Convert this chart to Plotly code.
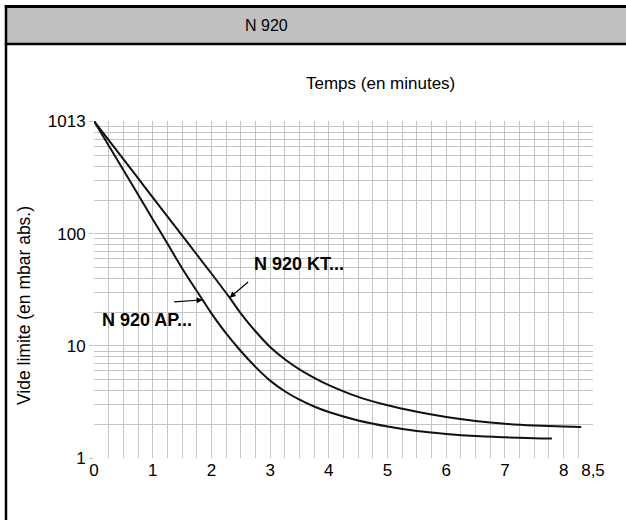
import numpy as np
import plotly.graph_objects as go

# ---- data ----
ap_time = [0, 0.25, 0.5, 0.75, 1.0, 1.25, 1.5, 1.85, 2.0, 2.25, 2.5, 2.75, 3.0, 3.25, 3.5, 3.75, 4.0, 4.5, 5.0, 5.5, 6.0, 6.5, 7.0, 7.5, 7.8]
ap_vacuum = [1013, 612, 370, 224, 135, 81.7, 49.3, 25.7, 19.5, 12.9, 9.0, 6.5, 4.9, 3.94, 3.31, 2.88, 2.57, 2.16, 1.91, 1.74, 1.64, 1.57, 1.53, 1.5, 1.49]
kt_time = [0, 0.25, 0.5, 0.75, 1.0, 1.25, 1.5, 1.75, 2.0, 2.31, 2.5, 2.75, 3.0, 3.25, 3.5, 3.75, 4.0, 4.5, 5.0, 5.5, 6.0, 6.5, 7.0, 7.5, 8.0, 8.3]
kt_vacuum = [1013, 684, 462, 313, 211, 143, 96.6, 65.3, 44.2, 26.9, 19.5, 13.5, 9.77, 7.59, 6.17, 5.19, 4.47, 3.51, 2.95, 2.58, 2.32, 2.14, 2.02, 1.95, 1.91, 1.89]

x_tick_vals = [0, 1, 2, 3, 4, 5, 6, 7, 8, 8.5]
x_tick_text = ["0", "1", "2", "3", "4", "5", "6", "7", "8", "8,5"]
y_tick_vals = [1, 10, 100, 1013]
y_tick_text = ["1", "10", "100", "1013"]
y_minor_vals = [m * d for d in (1, 10, 100) for m in range(2, 10)] + [1000]

title_text = "N 920"
x_title = "Temps (en minutes)"
y_title = "Vide limite (en mbar abs.)"
kt_label = "N 920 KT..."
ap_label = "N 920 AP..."
kt_arrow_idx = 9   # point on KT curve the arrow points to
ap_arrow_idx = 7   # point on AP curve the arrow points to

# ---- layout geometry ----
W, H = 626, 520
L, R, T, B = 94, 33, 121, 62
pw, ph = W - L - R, H - T - B

def pxx(px):
    return (px - L) / pw

def pxy(py):
    return (H - B - py) / ph

FONT = "Liberation Sans, Arial, sans-serif"
GRID = "#c4c4c4"

fig = go.Figure()
for xs, ys in ((ap_time, ap_vacuum), (kt_time, kt_vacuum)):
    fig.add_trace(go.Scatter(x=xs, y=ys, mode="lines",
                             line=dict(color="#111111", width=2, shape="spline", smoothing=0.8),
                             cliponaxis=False, hoverinfo="skip", showlegend=False))

shapes = [
    # title bar fill
    dict(type="rect", xref="paper", yref="paper", x0=pxx(6), x1=pxx(640), y0=pxy(44), y1=pxy(6.5),
         fillcolor="#c0c0c0", line=dict(width=0), layer="below"),
    # frame lines
    dict(type="line", xref="paper", yref="paper", x0=pxx(4.8), x1=pxx(640), y0=pxy(6.5), y1=pxy(6.5),
         line=dict(color="black", width=3)),
    dict(type="line", xref="paper", yref="paper", x0=pxx(4.8), x1=pxx(640), y0=pxy(44), y1=pxy(44),
         line=dict(color="black", width=2.6)),
    dict(type="line", xref="paper", yref="paper", x0=pxx(6), x1=pxx(6), y0=pxy(5), y1=pxy(520),
         line=dict(color="black", width=2.5)),
    # white label boxes (hide grid)
    dict(type="rect", xref="paper", yref="paper", x0=pxx(245), x1=pxx(357), y0=pxy(285), y1=pxy(247),
         fillcolor="white", line=dict(width=0), layer="between"),
    dict(type="rect", xref="paper", yref="paper", x0=pxx(94), x1=pxx(198), y0=pxy(340), y1=pxy(297),
         fillcolor="white", line=dict(width=0), layer="between"),
]

annotations = [
    dict(text=title_text, xref="paper", yref="paper", x=pxx(266), y=pxy(26), showarrow=False,
         xanchor="center", yanchor="middle", font=dict(family=FONT, size=16, color="black")),
    dict(text=x_title, xref="paper", yref="paper", x=pxx(380), y=pxy(83), showarrow=False,
         xanchor="center", yanchor="middle", font=dict(family=FONT, size=17, color="black")),
    dict(text=y_title, xref="paper", yref="paper", x=pxx(24), y=pxy(306), showarrow=False,
         textangle=-90, xanchor="center", yanchor="middle", font=dict(family=FONT, size=17.5, color="black")),
    dict(text="<b>" + kt_label + "</b>", xref="paper", yref="paper", x=pxx(299), y=pxy(264), showarrow=False,
         xanchor="center", yanchor="middle", font=dict(family=FONT, size=18, color="black")),
    dict(text="<b>" + ap_label + "</b>", xref="paper", yref="paper", x=pxx(147), y=pxy(320), showarrow=False,
         xanchor="center", yanchor="middle", font=dict(family=FONT, size=18, color="black")),
    # arrows
    dict(text="", x=kt_time[kt_arrow_idx], y=np.log10(kt_vacuum[kt_arrow_idx]), xref="x", yref="y",
         showarrow=True, ax=20, ay=-17, arrowhead=2, arrowsize=1, arrowwidth=1.2, arrowcolor="black",
         standoff=0),
    dict(text="", x=ap_time[ap_arrow_idx], y=np.log10(ap_vacuum[ap_arrow_idx]), xref="x", yref="y",
         showarrow=True, ax=-30, ay=2, arrowhead=2, arrowsize=1, arrowwidth=1.2, arrowcolor="black",
         standoff=0),
]

fig.update_layout(
    width=W, height=H,
    margin=dict(l=L, r=R, t=T, b=B, pad=0),
    paper_bgcolor="white", plot_bgcolor="white",
    shapes=shapes, annotations=annotations,
    showlegend=False,
    xaxis=dict(range=[0, 8.5], tickmode="array", tickvals=x_tick_vals, ticktext=x_tick_text,
               showgrid=True, gridcolor=GRID, gridwidth=1, zeroline=False, showline=False,
               ticks="",
               tickfont=dict(family=FONT, size=17, color="black"),
               minor=dict(tickmode="linear", tick0=0, dtick=0.25, showgrid=True, gridcolor=GRID, gridwidth=1)),
    yaxis=dict(type="log", range=[0, np.log10(1013)], tickmode="array", tickvals=y_tick_vals, ticktext=y_tick_text,
               showgrid=True, gridcolor=GRID, gridwidth=1, zeroline=False, showline=False,
               ticks="outside", ticklen=4, tickcolor=GRID,
               tickfont=dict(family=FONT, size=17, color="black"),
               minor=dict(tickmode="array", tickvals=y_minor_vals, showgrid=True, gridcolor=GRID, gridwidth=1)),
)

fig.write_html(
    "out.html",
    config={"displayModeBar": False, "staticPlot": True},
    post_script="document.body.style.margin='0';document.body.style.padding='0';"
                "document.body.style.overflow='hidden';"
                "document.documentElement.style.overflow='hidden';",
)
